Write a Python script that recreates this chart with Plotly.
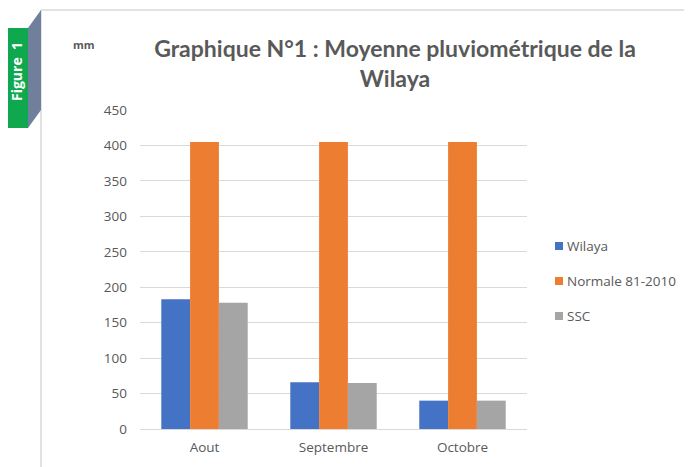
import plotly.graph_objects as go

mois = ['Aout', 'Septembre', 'Octobre']
wilaya = [183, 66, 40]
normale = [405, 405, 405]
ssc = [178, 65, 40]

series = ['Wilaya', 'Normale 81-2010', 'SSC']
couleurs = ['#4472C4', '#ED7D31', '#A5A5A5']
gris = '#595959'

# la page html ajoute une marge de 8px : on travaille en pixels de page
OFF = 8
W, H = 692, 467
x0, x1, y0, y1 = 140 - OFF, 527 - OFF, 110 - OFF, 429 - OFF


def px(x):
    return (x - OFF - x0) / (x1 - x0)


def py(y):
    return (y1 - (y - OFF)) / (y1 - y0)


fig = go.Figure()
for nom, vals, c in zip(series, [wilaya, normale, ssc], couleurs):
    fig.add_trace(go.Bar(x=mois, y=vals, name=nom,
                         marker=dict(color=c, line=dict(width=0))))

shapes = [
    # cadre
    dict(type='line', xref='paper', yref='paper', x0=px(41), x1=px(700),
         y0=py(10), y1=py(10), line=dict(color='#d9d9d9', width=1.5)),
    dict(type='line', xref='paper', yref='paper', x0=px(41), x1=px(41),
         y0=py(10), y1=py(480), line=dict(color='#d9d9d9', width=1.5)),
    # étiquette "Figure 1"
    dict(type='path', xref='paper', yref='paper',
         path=f'M {px(28)},{py(28)} L {px(41)},{py(10)} L {px(41)},{py(110)} '
              f'L {px(28)},{py(128)} Z',
         fillcolor='#6F7F9C', line=dict(width=0)),
    dict(type='rect', xref='paper', yref='paper', x0=px(3), x1=px(28),
         y0=py(28), y1=py(128), fillcolor='#0FA84E', line=dict(width=0)),
]

annotations = [
    dict(text='Figure  1', xref='paper', yref='paper', x=px(16), y=py(72),
         xanchor='center', yanchor='middle', showarrow=False, textangle=-90,
         font=dict(family='Open Sans', size=14, color='white', weight='bold')),
    dict(text='mm', xref='paper', yref='paper', x=px(84), y=py(45),
         xanchor='center', yanchor='middle', showarrow=False,
         font=dict(family='Open Sans', size=11, color=gris, weight='bold')),
]

# légende dessinée à la main (carré collé au texte)
for i, (nom, c) in enumerate(zip(series, couleurs)):
    yc = 246 + 35 * i
    shapes.append(dict(type='rect', xref='paper', yref='paper',
                       x0=px(555), x1=px(563), y0=py(yc - 4), y1=py(yc + 4),
                       fillcolor=c, line=dict(width=0)))
    annotations.append(dict(text=nom, xref='paper', yref='paper',
                            x=px(565), y=py(yc), xanchor='left',
                            yanchor='middle', showarrow=False,
                            font=dict(family='Open Sans', size=13.5,
                                      color=gris)))

fig.update_layout(
    width=W, height=H,
    margin=dict(l=x0, r=W - x1, t=y0, b=H - y1),
    paper_bgcolor='white', plot_bgcolor='white',
    barmode='group', bargap=0.33, bargroupgap=0,
    showlegend=False,
    title=dict(text='Graphique N°1 : Moyenne pluviométrique de la<br>Wilaya',
               x=(395 - OFF) / W, xanchor='center',
               y=1 - (57 - OFF) / H, yanchor='middle',
               font=dict(family='Lato', size=23, color=gris, weight='bold')),
    font=dict(family='Open Sans', size=13.5, color=gris),
    xaxis=dict(showgrid=False, showline=True, linecolor='#d9d9d9',
               ticks='', ticklabelstandoff=6),
    yaxis=dict(range=[0, 450], dtick=50, gridcolor='#d9d9d9', gridwidth=1,
               zeroline=False, ticks='', ticklabelstandoff=12),
    shapes=shapes, annotations=annotations,
)

fig.write_html('out.html')
